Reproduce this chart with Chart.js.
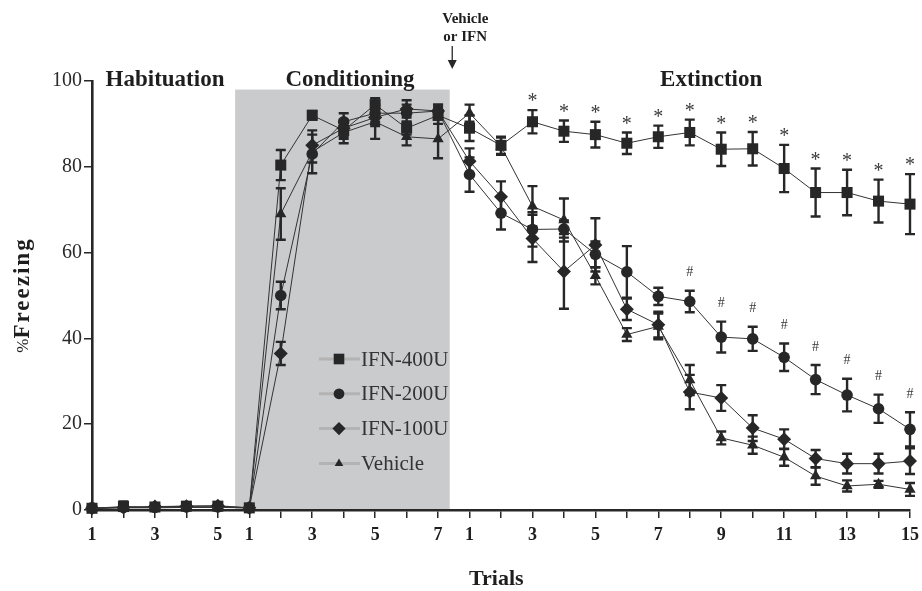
<!DOCTYPE html>
<html>
<head>
<meta charset="utf-8">
<title>Freezing across trials</title>
<script src="https://cdn.jsdelivr.net/npm/chart.js@4.4.1/dist/chart.umd.min.js"></script>
<style>
  html, body { margin: 0; padding: 0; background: #fff; }
  #wrap { width: 922px; height: 591px; }
</style>
</head>
<body>
<div id="wrap"><canvas id="freezeChart" width="922" height="591"></canvas></div>
<script>
// trial labels per phase
const habLabels = ['1', '2', '3', '4', '5'];
const condLabels = ['1', '2', '3', '4', '5', '6', '7'];
const extLabels = ['1', '2', '3', '4', '5', '6', '7', '8', '9', '10', '11', '12', '13', '14', '15'];

// % freezing (mean) and SEM, habituation -> conditioning -> extinction
const ifn400 = [0.4, 0.8, 0.7, 0.9, 0.9, 0.5, 80.4, 92, 88.5, 94.5, 89, 92, 89, 85, 90.5, 88.3, 87.5, 85.5, 87, 88, 84.1, 84.2, 79.6, 74, 74, 72, 71.3];
const err400 = [0, 1.2, 0, 0, 0, 0, 3.5, 1, 2, 1.5, 1.5, 2, 3, 2, 2.7, 2.5, 3, 2.5, 2.6, 3, 3.9, 3.9, 5.5, 5.6, 5.3, 5, 7];

const ifn200 = [0.5, 0.6, 0.6, 0.7, 0.7, 0.5, 50, 83, 90.5, 92.5, 92.5, 93, 78.2, 69.2, 65.4, 65.5, 59.6, 55.5, 49.8, 48.6, 40.3, 39.9, 35.6, 30.4, 26.8, 23.6, 18.8];
const err200 = [0, 0, 0, 0, 0, 0, 3.2, 2, 2, 2, 2, 1.5, 4, 3.8, 4, 2, 3, 6, 2, 2.5, 3.6, 2.8, 3.2, 3.4, 3.8, 3.3, 4];

const ifn100 = [0.4, 0.6, 0.8, 0.9, 1.0, 0.5, 36.5, 85, 89, 91.5, 93.5, 93, 81.3, 73, 63.3, 55.6, 61.8, 46.8, 43.2, 27.5, 26.1, 19.1, 16.5, 12, 10.8, 10.8, 11.4];
const err100 = [0, 0, 0, 0, 0, 0, 2.7, 2.5, 2, 2, 2, 1.5, 3, 3.6, 5.5, 8.7, 6.2, 2.5, 3, 4, 3, 3, 2.3, 2, 2.3, 2.3, 3];

const vehicle = [0.3, 0.5, 0.5, 0.6, 0.6, 0.5, 69, 83.5, 88, 90.5, 87, 86.5, 92.5, 84.8, 70.8, 67.6, 54.6, 40.9, 42.8, 30.3, 16.8, 15.1, 12.3, 7.9, 5.6, 6.0, 4.8];
const errVeh = [0, 0, 0, 0, 0, 0, 6, 5, 2.5, 4, 2, 4.5, 2, 2, 4.7, 5, 2, 1.5, 3, 3.5, 1.5, 2, 2, 2, 1.3, 0.8, 1.5];

// extinction trials flagged in the figure
const starTrials = [3, 4, 5, 6, 7, 8, 9, 10, 11, 12, 13, 14, 15];   // IFN-400U vs vehicle
const hashTrials = [8, 9, 10, 11, 12, 13, 14, 15];                    // IFN-200U vs vehicle

const trialLabels = [...habLabels, ...condLabels, ...extLabels];
const extStart = habLabels.length + condLabels.length;

const SERIF = '"Liberation Serif", "Times New Roman", serif';
const INK = '#272727';

const series = [
  { name: 'IFN-400U', values: ifn400, errors: err400, style: 'rect', radius: 7.8, legendRadius: 7.5 },
  { name: 'IFN-200U', values: ifn200, errors: err200, style: 'circle', radius: 5.8, legendRadius: 5.4 },
  { name: 'IFN-100U', values: ifn100, errors: err100, style: 'rectRot', radius: 7, legendRadius: 6.6 },
  { name: 'Vehicle', values: vehicle, errors: errVeh, style: 'triangle', radius: 6.5, legendRadius: 5 }
];

// grey "conditioning" band, in trial-index units
const band = { from: 4.55, to: 11.37, top: 98 };

const bandPlugin = {
  id: 'band',
  beforeDraw(chart) {
    const { ctx, scales: { x, y } } = chart;
    const left = x.getPixelForValue(band.from);
    const right = x.getPixelForValue(band.to);
    const top = y.getPixelForValue(band.top);
    const bottom = y.getPixelForValue(0);
    ctx.save();
    ctx.fillStyle = '#cacbcd';
    ctx.fillRect(left, top, right - left, bottom - top);
    ctx.restore();
  }
};

const errorBarPlugin = {
  id: 'errorBars',
  afterDatasetsDraw(chart) {
    const { ctx, scales: { x, y } } = chart;
    ctx.save();
    ctx.strokeStyle = INK;
    ctx.lineWidth = 2.4;
    series.forEach(s => {
      s.values.forEach((v, i) => {
        const e = s.errors[i];
        if (!e) return;
        const px = x.getPixelForValue(i);
        const top = y.getPixelForValue(v + e);
        const bottom = y.getPixelForValue(Math.max(0, v - e));
        ctx.beginPath();
        ctx.moveTo(px, top); ctx.lineTo(px, bottom);
        ctx.moveTo(px - 5, top); ctx.lineTo(px + 5, top);
        ctx.moveTo(px - 5, bottom); ctx.lineTo(px + 5, bottom);
        ctx.stroke();
      });
    });

    // significance marks
    ctx.fillStyle = '#3a3a3a';
    ctx.textAlign = 'center';
    ctx.textBaseline = 'middle';
    ctx.font = '20px ' + SERIF;
    starTrials.forEach(t => {
      const i = extStart + t - 1;
      ctx.fillText('*', x.getPixelForValue(i), y.getPixelForValue(ifn400[i] + err400[i]) - 8);
    });
    ctx.font = '14px ' + SERIF;
    hashTrials.forEach(t => {
      const i = extStart + t - 1;
      ctx.fillText('#', x.getPixelForValue(i), y.getPixelForValue(ifn200[i] + err200[i]) - 18);
    });
    ctx.restore();
  }
};

const decorPlugin = {
  id: 'decor',
  afterDraw(chart) {
    const { ctx, chartArea, scales: { x, y } } = chart;
    const draw = Chart.helpers.drawPoint;
    ctx.save();

    // phase titles
    ctx.fillStyle = '#1e1e1e';
    ctx.textAlign = 'center';
    ctx.textBaseline = 'middle';
    ctx.font = 'bold 23px ' + SERIF;
    [['Habituation', 2.32], ['Conditioning', 8.2], ['Extinction', 19.68]].forEach(([txt, at]) => {
      ctx.fillText(txt, x.getPixelForValue(at), chartArea.top - 1);
    });

    // injection arrow
    const ax = x.getPixelForValue(11.45);
    ctx.font = 'bold 15px ' + SERIF;
    ctx.fillText('Vehicle', ax + 13, 19);
    ctx.fillText('or IFN', ax + 13, 37);
    ctx.strokeStyle = INK;
    ctx.lineWidth = 1.3;
    ctx.beginPath();
    ctx.moveTo(ax, 46); ctx.lineTo(ax, 62);
    ctx.stroke();
    ctx.beginPath();
    ctx.moveTo(ax - 4.5, 60); ctx.lineTo(ax + 4.5, 60); ctx.lineTo(ax, 69);
    ctx.closePath();
    ctx.fillStyle = INK;
    ctx.fill();

    // axis titles
    ctx.fillStyle = '#1e1e1e';
    ctx.font = 'bold 22px ' + SERIF;
    ctx.fillText('Trials', x.getPixelForValue(12.85), 579);

    ctx.save();
    ctx.translate(23, 295);
    ctx.rotate(-Math.PI / 2);
    ctx.textAlign = 'left';
    ctx.font = '17px ' + SERIF;
    const pw = ctx.measureText('%').width;
    ctx.font = 'bold 23px ' + SERIF;
    ctx.letterSpacing = '2px';
    const fw = ctx.measureText('Freezing').width;
    const start = -(pw + fw) / 2;
    ctx.fillText('Freezing', start + pw, 0);
    ctx.letterSpacing = '0px';
    ctx.font = '17px ' + SERIF;
    ctx.fillText('%', start, 1);
    ctx.restore();

    // legend inside the grey band
    const lx = chartArea.left + 227;
    const ly = chartArea.top + 278;
    series.forEach((s, k) => {
      const rowY = ly + k * 34.8;
      ctx.strokeStyle = '#b3b3b3';
      ctx.lineWidth = 3;
      ctx.beginPath();
      ctx.moveTo(lx, rowY); ctx.lineTo(lx + 41, rowY);
      ctx.stroke();
      ctx.fillStyle = INK;
      draw(ctx, { pointStyle: s.style, radius: s.legendRadius, borderWidth: 0, rotation: 0 }, lx + 20, rowY);
      ctx.fillStyle = '#333';
      ctx.textAlign = 'left';
      ctx.font = '21px ' + SERIF;
      ctx.fillText(s.name, lx + 42, rowY + 1);
    });
    ctx.restore();
  }
};

new Chart(document.getElementById('freezeChart'), {
  type: 'line',
  data: {
    labels: trialLabels,
    datasets: series.slice().reverse().map(s => ({
      label: s.name,
      data: s.values,
      borderColor: '#333',
      borderWidth: 1,
      pointStyle: s.style,
      pointRadius: s.radius,
      pointBackgroundColor: INK,
      pointBorderColor: INK,
      pointBorderWidth: 0,
      tension: 0,
      clip: false
    }))
  },
  options: {
    responsive: false,
    animation: false,
    layout: { padding: { top: 81, right: 12, left: 0, bottom: 0 } },
    plugins: { legend: { display: false }, tooltip: { enabled: false } },
    scales: {
      x: {
        type: 'category',
        offset: false,
        afterFit: scale => {
          scale.height = 81;
          scale.paddingLeft = 0;
          scale.paddingRight = 0;
        },
        border: { color: INK, width: 2.6 },
        grid: { drawOnChartArea: false, tickLength: 8, color: INK, lineWidth: 1.5 },
        ticks: {
          autoSkip: false,
          maxRotation: 0,
          padding: 7,
          color: '#1e1e1e',
          font: { family: SERIF, size: 18, weight: 'bold' },
          callback: (v, i) => (Number(trialLabels[i]) % 2 ? trialLabels[i] : '')
        }
      },
      y: {
        min: 0,
        max: 100,
        afterFit: scale => { scale.width = 92; },
        border: { color: INK, width: 2.6 },
        grid: { drawOnChartArea: false, tickLength: 8, color: INK, lineWidth: 1.5 },
        ticks: {
          stepSize: 20,
          padding: 2,
          color: '#2a2a2a',
          font: { family: SERIF, size: 20 }
        }
      }
    }
  },
  plugins: [bandPlugin, errorBarPlugin, decorPlugin]
});
</script>
</body>
</html>
